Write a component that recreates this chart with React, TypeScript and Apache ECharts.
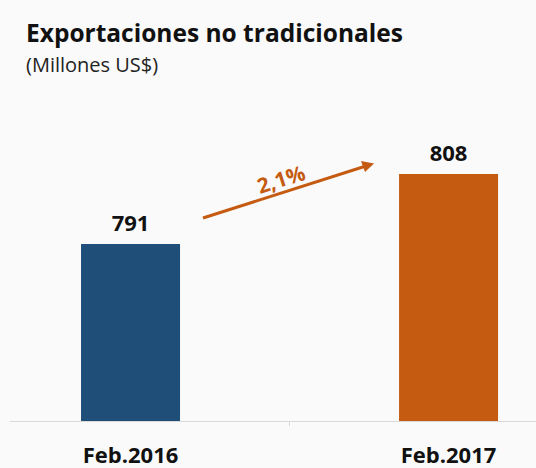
import React, { useEffect, useRef } from "react";
import * as echarts from "echarts";

const categories = ["Feb.2016", "Feb.2017"];
const values = [791, 808];
const barColors = ["#1F4E79", "#C55A11"];
const growthLabel = "2,1%";
const titleText = "Exportaciones no tradicionales";
const subtitleText = "(Millones US$)";

export default function App() {
  const ref = useRef<HTMLDivElement>(null);
  useEffect(() => {
    if (!ref.current) return;
    document.body.style.margin = "0";
    document.body.style.overflow = "hidden";
    const chart = echarts.init(ref.current, null, { renderer: "svg" });
    const font = "'Open Sans', 'Noto Sans', sans-serif";
    const ang = Math.atan2(218 - 164, 373 - 203);
    chart.setOption({
      animation: false,
      backgroundColor: "#fafafa",
      title: [
        {
          text: titleText,
          left: 21,
          top: 15,
          textStyle: { fontFamily: font, fontSize: 24.5, fontWeight: "bold", color: "#111" },
        },
        {
          text: subtitleText,
          left: 21,
          top: 49,
          textStyle: { fontFamily: font, fontSize: 20, fontWeight: "normal", color: "#222" },
        },
      ],
      grid: { left: 10, right: 0, top: 100, bottom: 47, containLabel: false },
      xAxis: {
        type: "value",
        min: -0.379,
        max: 1.275,
        splitLine: { show: false },
        axisLine: { show: true, lineStyle: { color: "#d9d9d9", width: 1 } },
        axisTick: { show: true, length: 5, customValues: [0.5], lineStyle: { color: "#d9d9d9" } },
        axisLabel: {
          customValues: [0, 1],
          formatter: (v: number) => categories[Math.round(v)] ?? "",
          margin: 22,
          fontFamily: font,
          fontSize: 22,
          fontWeight: "bold",
          color: "#111",
        },
      },
      yAxis: {
        type: "value",
        min: 748,
        max: 826,
        show: false,
        splitLine: { show: false },
      },
      series: [
        {
          type: "bar",
          barWidth: 99,
          data: values.map((v, i) => ({ value: [i, v], itemStyle: { color: barColors[i] } })),
          label: {
            show: true,
            position: "top",
            distance: 11,
            formatter: (p: any) => String(p.value[1]),
            fontFamily: font,
            fontSize: 22,
            fontWeight: "bold",
            color: "#111",
          },
        },
      ],
      graphic: [
        {
          type: "line",
          shape: { x1: 203, y1: 218, x2: 366, y2: 166 },
          style: { stroke: "#C55A11", lineWidth: 3 },
        },
        {
          type: "polygon",
          shape: {
            points: [
              [374, 163.5],
              [361, 161],
              [365, 172],
            ],
          },
          style: { fill: "#C55A11" },
        },
        {
          type: "text",
          x: 281,
          y: 179,
          rotation: ang,
          style: {
            text: growthLabel,
            fontFamily: font,
            fontSize: 21,
            fontWeight: "bold",
            fill: "#C55A11",
            textAlign: "center",
            textVerticalAlign: "middle",
          },
        },
      ],
    });
    return () => chart.dispose();
  }, []);
  return (
    <div
      ref={ref}
      style={{ position: "absolute", left: 0, top: 0, width: 536, height: 468 }}
    />
  );
}
